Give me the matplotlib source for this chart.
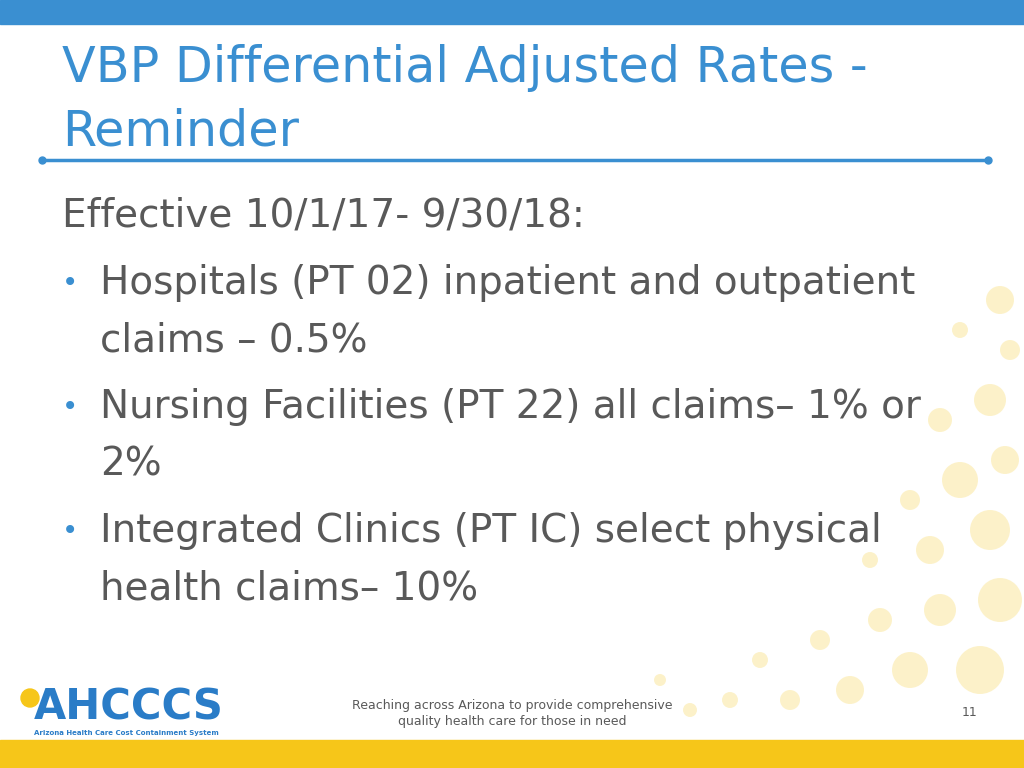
import matplotlib
matplotlib.use("Agg")
import matplotlib.pyplot as plt
from matplotlib.patches import Rectangle, Circle

title_lines = ["VBP Differential Adjusted Rates -", "Reminder"]
intro = "Effective 10/1/17- 9/30/18:"
bullets = [["Hospitals (PT 02) inpatient and outpatient", "claims \u2013 0.5%"],
           ["Nursing Facilities (PT 22) all claims\u2013 1% or", "2%"],
           ["Integrated Clinics (PT IC) select physical", "health claims\u2013 10%"]]
footer = ["Reaching across Arizona to provide comprehensive", "quality health care for those in need"]
page = "11"

fig = plt.figure(figsize=(10.24, 7.68), dpi=100)
ax = fig.add_axes([0, 0, 1, 1])
ax.set_xlim(0, 1024); ax.set_ylim(768, 0); ax.axis("off")

blue = "#3a8fd1"; grey = "#595959"
ax.add_patch(Rectangle((0, 0), 1024, 24, color=blue))
ax.add_patch(Rectangle((0, 740), 1024, 28, color="#f6c619"))

dots = [(1000,300,14),(1010,350,10),(960,330,8),(990,400,16),(940,420,12),(1005,460,14),(960,480,18),
        (910,500,10),(990,530,20),(930,550,14),(870,560,8),(1000,600,22),(940,610,16),(880,620,12),
        (820,640,10),(760,660,8),(980,670,24),(910,670,18),(850,690,14),(790,700,10),(730,700,8),(690,710,7),(660,680,6)]
for x, y, r in dots:
    ax.add_patch(Circle((x, y), r, color="#fbe9a6", alpha=0.6, lw=0))

for i, t in enumerate(title_lines):
    ax.text(62, 68 + i*64, t, fontsize=35.5, color=blue, va="center", ha="left", family="DejaVu Sans")
ax.plot([42, 988], [160, 160], color=blue, lw=2.5)
ax.plot([42, 988], [160, 160], "o", color=blue, ms=5)

ax.text(62, 215, intro, fontsize=28, color=grey, va="center")
y = 283
for b in bullets:
    ax.text(62, y, "\u2022", fontsize=20, color=blue, va="center")
    for j, line in enumerate(b):
        ax.text(100, y + j*57, line, fontsize=28, color=grey, va="center")
    y += 124

ax.text(512, 706, footer[0], fontsize=9, color=grey, ha="center", va="center")
ax.text(512, 722, footer[1], fontsize=9, color=grey, ha="center", va="center")
ax.text(970, 712, page, fontsize=9, color=grey, ha="center", va="center")

ax.text(34, 708, "AHCCCS", fontsize=30, color="#2a7cc7", fontweight="bold", va="center", ha="left")
ax.text(34, 733, "Arizona Health Care Cost Containment System", fontsize=5, color="#2a7cc7", fontweight="bold", va="center")
ax.add_patch(Circle((30, 698), 9, color="#f6c619"))

fig.savefig("out.png", dpi=100)
